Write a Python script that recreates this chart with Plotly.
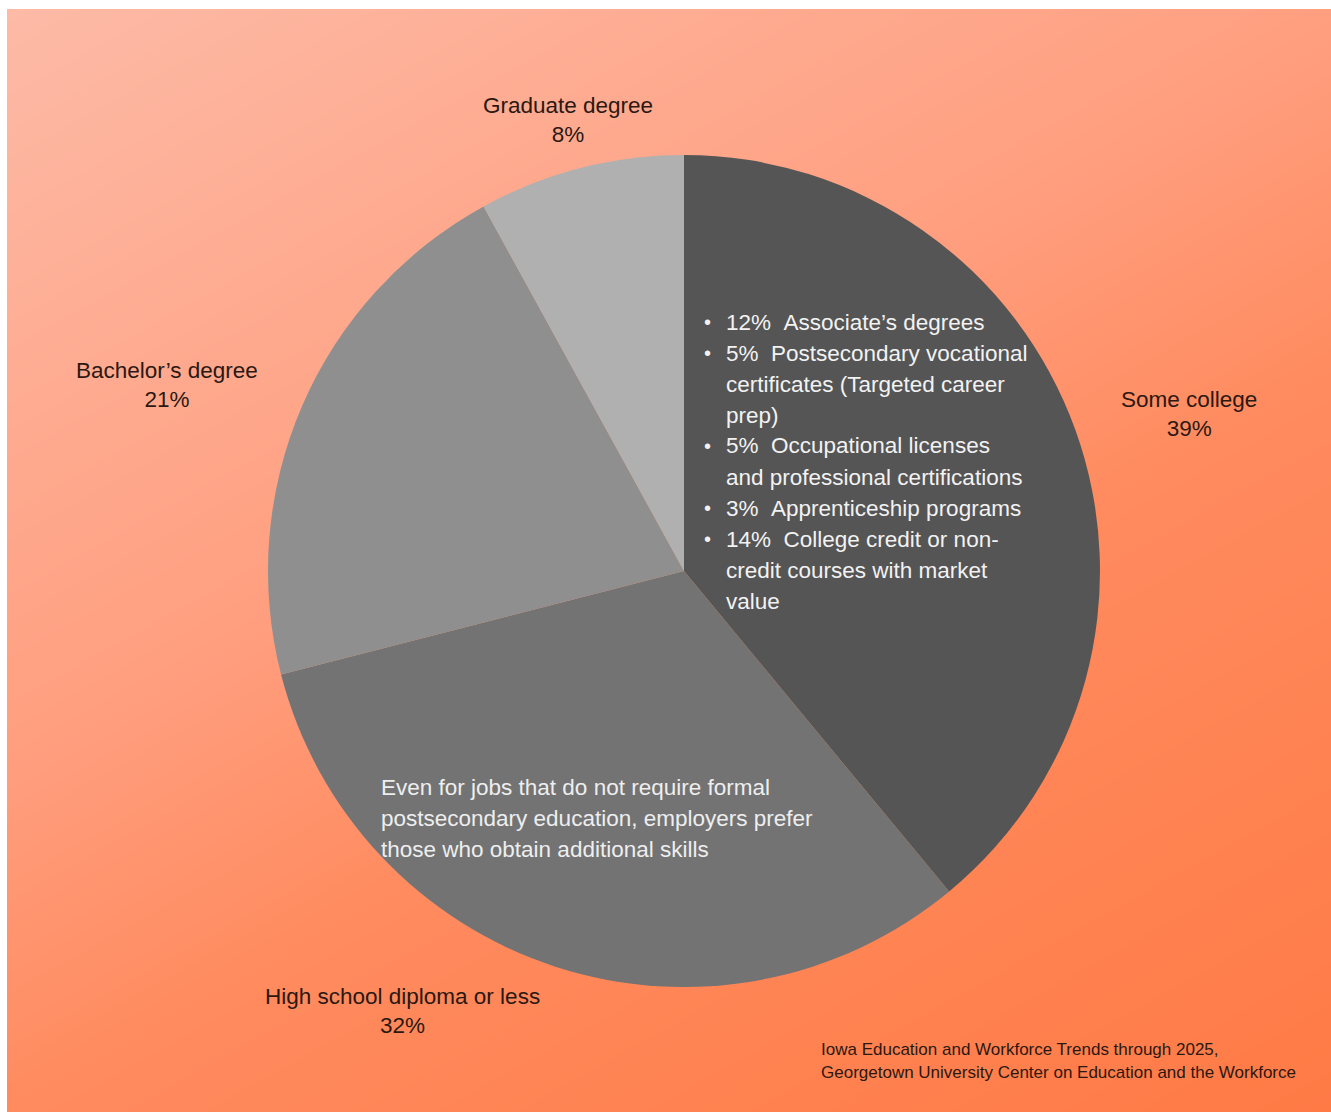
import plotly.graph_objects as go

# ---- data -------------------------------------------------------------
categories = ["Some college", "High school diploma or less",
              "Bachelor\u2019s degree", "Graduate degree"]
shares = [39, 32, 21, 8]
slice_colors = ["#555555", "#737373", "#8f8f8f", "#b0b0b0"]

# breakdown of the "Some college" share (label text pre-wrapped)
sub_shares = [12, 5, 5, 3, 14]
sub_labels = [
    ["Associate\u2019s degrees"],
    ["Postsecondary vocational", "certificates (Targeted career", "prep)"],
    ["Occupational licenses", "and professional certifications"],
    ["Apprenticeship programs"],
    ["College credit or non-", "credit courses with market", "value"],
]

note_lines = [
    "Even for jobs that do not require formal",
    "postsecondary education, employers prefer",
    "those who obtain additional skills",
]
source_lines = [
    "Iowa Education and Workforce Trends through 2025,",
    "Georgetown University Center on Education and the Workforce",
]

# ---- canvas -------------------------------------------------------------
W, H = 1331, 1112
FONT = "Liberation Sans, Arial, sans-serif"
DARK = "#2b1812"
SIZE = 22.5


def px(x):
    return x / W


def py(y):
    return 1 - y / H


fig = go.Figure()

# diagonal peach-to-orange gradient behind everything
fig.add_trace(go.Heatmap(
    x=[0, 1], y=[0, 1],
    z=[[0.6, 1.0], [0.0, 0.4]],
    zmin=0, zmax=1, zsmooth="best",
    colorscale=[[0.0, "#FDBAA6"], [0.4, "#FF9F80"],
                [0.6, "#FF8B5F"], [1.0, "#FF7A45"]],
    showscale=False, hoverinfo="skip",
    xaxis="x", yaxis="y",
))

# pie: centre (684, 571), radius 416 px
cx, cy, r = 684, 571, 416
fig.add_trace(go.Pie(
    labels=categories, values=shares, sort=False,
    direction="clockwise", rotation=0,
    marker=dict(colors=slice_colors, line=dict(width=0)),
    textinfo="none", hoverinfo="label+percent",
    showlegend=False,
    domain=dict(x=[px(cx - r), px(cx + r)], y=[py(cy + r), py(cy - r)]),
))

annotations = []

# outer category labels
label_pos = {
    "Some college": (1189, 414),
    "High school diploma or less": (402, 1011),
    "Bachelor\u2019s degree": (167, 385),
    "Graduate degree": (568, 120),
}
for cat, val in zip(categories, shares):
    x, y = label_pos[cat]
    annotations.append(dict(
        x=px(x), y=py(y), xref="paper", yref="paper",
        text=f"{cat}<br>{val}%", showarrow=False,
        xanchor="center", yanchor="middle", align="center",
        font=dict(family=FONT, size=SIZE, color=DARK),
    ))

# bulleted breakdown inside the "Some college" slice
line_y = 322
for pct, lines in zip(sub_shares, sub_labels):
    annotations.append(dict(
        x=px(707), y=py(line_y), xref="paper", yref="paper",
        text="\u2022", showarrow=False, xanchor="center", yanchor="middle",
        font=dict(family=FONT, size=20, color="#f2f2f2"),
    ))
    for i, ln in enumerate(lines):
        txt = f"{pct}%\u00a0\u00a0{ln}" if i == 0 else ln
        annotations.append(dict(
            x=px(724), y=py(line_y), xref="paper", yref="paper",
            text=txt, showarrow=False, xanchor="left", yanchor="middle",
            font=dict(family=FONT, size=SIZE, color="#f2f2f2"),
        ))
        line_y += 31

# note inside the "High school" slice
for i, ln in enumerate(note_lines):
    annotations.append(dict(
        x=px(379), y=py(787 + 31 * i), xref="paper", yref="paper",
        text=ln, showarrow=False, xanchor="left", yanchor="middle",
        font=dict(family=FONT, size=SIZE, color="#eeeeee"),
    ))

# source credit
for i, ln in enumerate(source_lines):
    annotations.append(dict(
        x=px(819), y=py(1049 + 23 * i), xref="paper", yref="paper",
        text=ln, showarrow=False, xanchor="left", yanchor="middle",
        font=dict(family=FONT, size=17, color=DARK),
    ))

hidden = dict(visible=False, range=[0, 1], fixedrange=True,
              showgrid=False, zeroline=False)
fig.update_layout(
    width=W, height=H,
    margin=dict(l=0, r=0, t=0, b=0),
    paper_bgcolor="white", plot_bgcolor="rgba(0,0,0,0)",
    xaxis=dict(domain=[px(7), 1], **hidden),
    yaxis=dict(domain=[0, py(9)], **hidden),
    annotations=annotations,
    showlegend=False,
)

fig.write_html("out.html")
